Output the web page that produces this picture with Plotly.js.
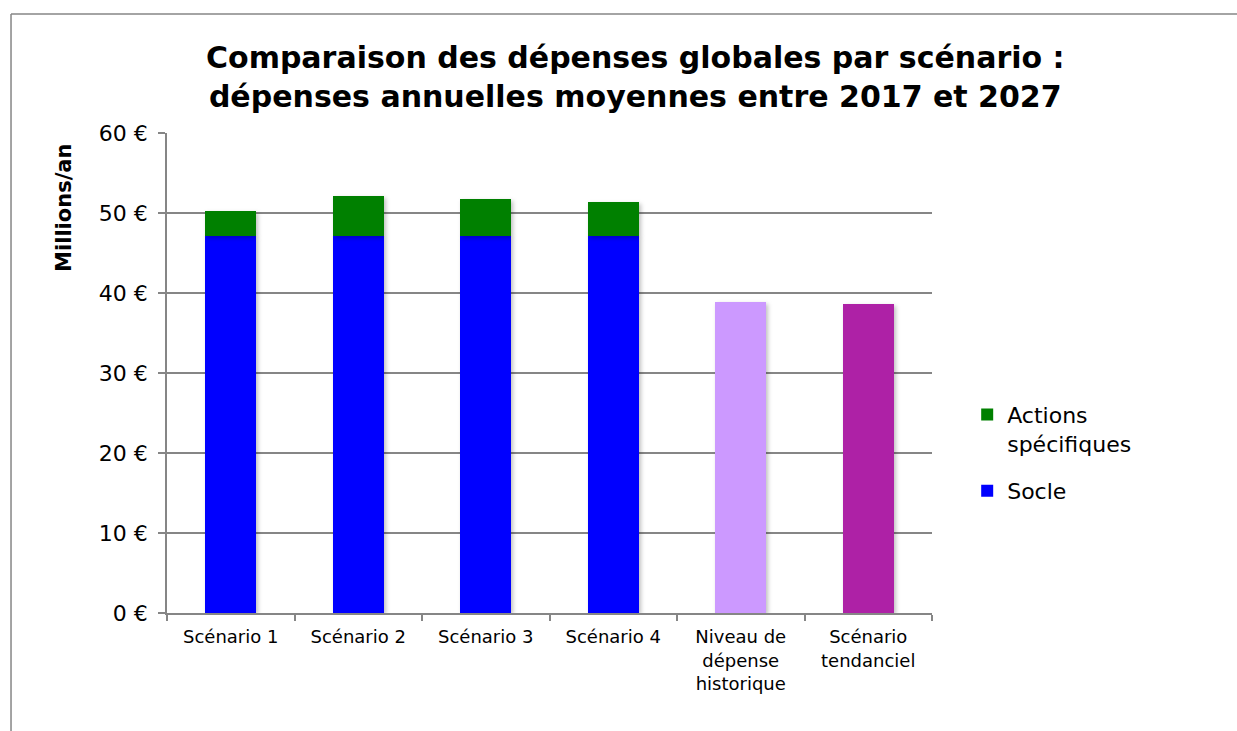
<!DOCTYPE html>
<html>
<head>
<meta charset="utf-8">
<script src="https://cdn.plot.ly/plotly-3.0.1.min.js"></script>
<style>
html,body{margin:0;padding:0;background:#fff;}
#chart{width:1237px;height:731px;}
.barlayer .point path{filter: drop-shadow(2px 2px 2px rgba(0,0,0,0.25));}
</style>
</head>
<body>
<div id="chart"></div>
<script>
const categories = ["Scénario 1", "Scénario 2", "Scénario 3", "Scénario 4", "Niveau de<br>dépense<br>historique", "Scénario<br>tendanciel"];
const socle = [47.1, 47.1, 47.1, 47.1, 38.9, 38.6];
const socleColors = ["#0000FF", "#0000FF", "#0000FF", "#0000FF", "#CC99FF", "#AE21A6"];
const actions = [3.15, 5.0, 4.65, 4.3, null, null];
const yTickVals = [0, 10, 20, 30, 40, 50, 60];
const yTickText = ["0 €", "10 €", "20 €", "30 €", "40 €", "50 €", "60 €"];

const font = "DejaVu Sans, Verdana, sans-serif";
const gridCol = "#868686";

const traces = [
  {
    type: "bar", name: "Socle", x: categories, y: socle, legendgroup: "g2", legendrank: 2,
    marker: {color: socleColors, line: {width: 0}},
    hoverinfo: "x+y+name"
  },
  {
    type: "bar", name: "Actions<br>spécifiques", x: categories, y: actions, legendgroup: "g1", legendrank: 1,
    marker: {color: "#008000", line: {width: 0}},
    hoverinfo: "x+y+name"
  }
];

const layout = {
  width: 1237, height: 731,
  paper_bgcolor: "#fff", plot_bgcolor: "#fff",
  margin: {l: 167, r: 305, t: 133, b: 118, pad: 0},
  barmode: "stack",
  bargap: 0.6,
  showlegend: true,
  font: {family: font, color: "#000"},
  xaxis: {
    type: "category",
    showline: true, linecolor: gridCol, linewidth: 1.5,
    ticks: "outside", tickson: "boundaries", ticklen: 6, tickcolor: gridCol, tickwidth: 1.5,
    tickfont: {family: font, size: 18, color: "#000"},
    ticklabelstandoff: 7,
    showgrid: false, zeroline: false, fixedrange: true
  },
  yaxis: {
    range: [0, 60],
    tickvals: yTickVals, ticktext: yTickText,
    showline: true, linecolor: gridCol, linewidth: 1.5,
    ticks: "outside", ticklen: 7, tickcolor: gridCol, tickwidth: 1.5,
    showgrid: true, gridcolor: gridCol, gridwidth: 1.5,
    zeroline: false,
    tickfont: {family: font, size: 22, color: "#000"},
    ticklabelstandoff: 6,
    fixedrange: true
  },
  legend: {
    x: 1.046, xanchor: "left", y: 0.457, yanchor: "top",
    traceorder: "grouped",
    valign: "top",
    font: {family: font, size: 22, color: "#000"},
    itemwidth: 30, tracegroupgap: 16,
    bgcolor: "rgba(0,0,0,0)"
  },
  annotations: [
    {
      text: "<b>Comparaison des dépenses globales par scénario :<br>dépenses annuelles moyennes entre 2017 et 2027</b>",
      xref: "paper", yref: "paper", x: 0.612, y: 1.117, xanchor: "center", yanchor: "middle",
      showarrow: false, font: {family: font, size: 30, color: "#000"}
    },
    {
      text: "<b>Millions/an</b>", textangle: -90,
      xref: "paper", yref: "paper", x: -0.134, y: 0.845, xanchor: "center", yanchor: "middle",
      showarrow: false, font: {family: font, size: 21, color: "#000"}
    }
  ],
  shapes: [
    {type: "line", xref: "paper", yref: "paper", x0: -0.2039, x1: -0.2039, y0: -0.25, y1: 1.248, line: {color: gridCol, width: 1.5}},
    {type: "line", xref: "paper", yref: "paper", x0: -0.2039, x1: 1.40, y0: 1.248, y1: 1.248, line: {color: gridCol, width: 1.5}}
  ]
};

Plotly.newPlot("chart", traces, layout, {displayModeBar: false});
</script>
</body>
</html>
